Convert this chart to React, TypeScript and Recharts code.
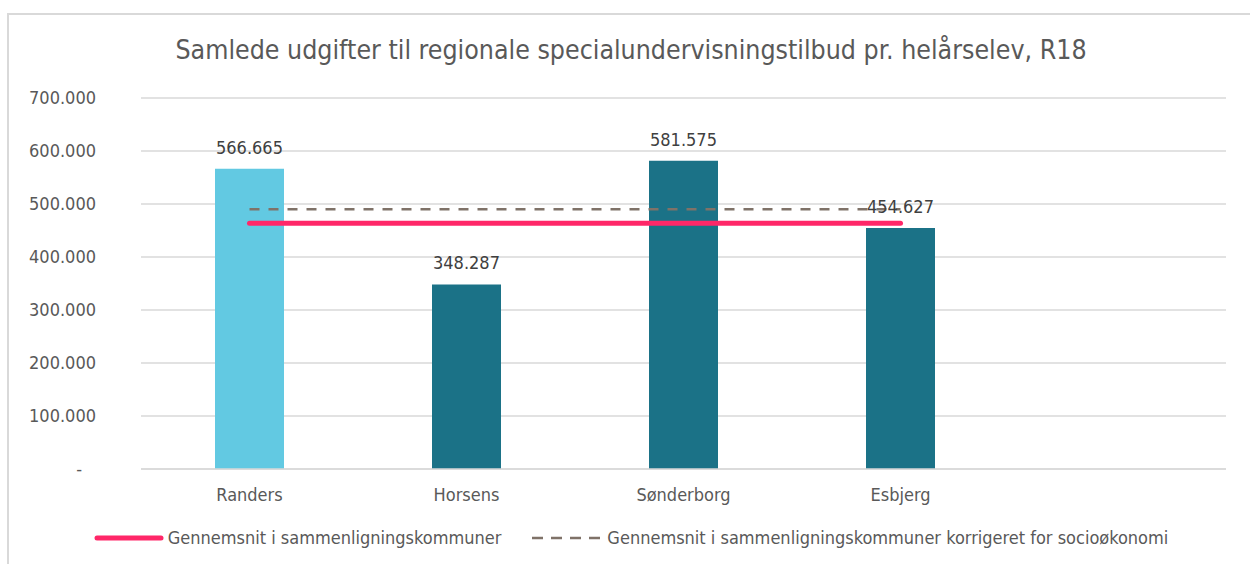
import {
  ComposedChart,
  Bar,
  Line,
  XAxis,
  YAxis,
  CartesianGrid,
  Cell,
  LabelList,
} from 'recharts';

const CATEGORIES = ['Randers', 'Horsens', 'Sønderborg', 'Esbjerg', ''];
const EXPENSES = [566665, 348287, 581575, 454627, null];
const AVERAGE = [463500, 463500, 463500, 463500, null];
const AVERAGE_ADJUSTED = [490000, 490000, 490000, 490000, null];
const Y_TICKS = [0, 100000, 200000, 300000, 400000, 500000, 600000, 700000];

const TITLE = 'Samlede udgifter til regionale specialundervisningstilbud pr. helårselev, R18';
const LEGEND_AVG = 'Gennemsnit i sammenligningskommuner';
const LEGEND_ADJ = 'Gennemsnit i sammenligningskommuner korrigeret for socioøkonomi';

const FONT = '"DejaVu Sans Condensed", "DejaVu Sans", sans-serif';
const TEXT = '#595959';
const LIGHT = '#62C9E2';
const DARK = '#1B7287';
const PINK = '#FF2768';
const DASH = '#7F7268';

const data = CATEGORIES.map((name, i) => ({
  name,
  value: EXPENSES[i],
  avg: AVERAGE[i],
  adj: AVERAGE_ADJUSTED[i],
}));

const fmt = (v: number) => (v === 0 ? '-' : v.toLocaleString('de-DE'));

const YTick = (props: any) => {
  const { x, y, payload } = props;
  const zero = payload.value === 0;
  return (
    <text
      x={zero ? x - 14 : x}
      y={y}
      dy={6}
      textAnchor="end"
      fill={TEXT}
      fontSize={18}
      fontFamily={FONT}
    >
      {fmt(payload.value)}
    </text>
  );
};

export default function App() {
  return (
    <div
      style={{
        position: 'absolute',
        left: 0,
        top: 0,
        width: 1250,
        height: 564,
        overflow: 'hidden',
        background: '#fff',
        fontFamily: FONT,
      }}
    >
      <div
        style={{
          position: 'absolute',
          left: 7,
          top: 13,
          width: 1270,
          height: 620,
          border: '2px solid #d9d9d9',
        }}
      />
      <div
        style={{
          position: 'absolute',
          left: 0,
          top: 33,
          width: 1262,
          textAlign: 'center',
          fontSize: 26.5,
          color: TEXT,
          lineHeight: '34px',
        }}
      >
        {TITLE}
      </div>
      <div style={{ position: 'absolute', left: 0, top: 0 }}>
        <ComposedChart
          width={1250}
          height={564}
          data={data}
          margin={{ top: 98, right: 24, bottom: 55, left: 0 }}
          barSize={69}
        >
          <CartesianGrid vertical={false} stroke="#d9d9d9" strokeWidth={1.5} />
          <XAxis
            dataKey="name"
            axisLine={{ stroke: '#d9d9d9', strokeWidth: 1.5 }}
            tickLine={false}
            tick={{ fill: TEXT, fontSize: 18, fontFamily: FONT }}
            tickMargin={13}
            height={40}
          />
          <YAxis
            domain={[0, 700000]}
            ticks={Y_TICKS}
            axisLine={false}
            tickLine={false}
            tickSize={0}
            tickMargin={45}
            width={141}
            tick={<YTick />}
          />
          <Bar dataKey="value" isAnimationActive={false}>
            {data.map((d, i) => (
              <Cell key={d.name + i} fill={i === 0 ? LIGHT : DARK} />
            ))}
            <LabelList
              dataKey="value"
              position="top"
              offset={15}
              formatter={(v: any) => (v == null ? '' : fmt(v))}
              style={{ fill: '#404040', fontSize: 18, fontFamily: FONT }}
            />
          </Bar>
          <Line
            dataKey="adj"
            stroke={DASH}
            strokeWidth={2.5}
            strokeDasharray="10 9"
            dot={false}
            activeDot={false}
            isAnimationActive={false}
          />
          <Line
            dataKey="avg"
            stroke={PINK}
            strokeWidth={5}
            strokeLinecap="round"
            dot={false}
            activeDot={false}
            isAnimationActive={false}
          />
        </ComposedChart>
      </div>
      <div
        style={{
          position: 'absolute',
          left: 0,
          top: 527,
          width: 1262,
          display: 'flex',
          justifyContent: 'center',
          alignItems: 'center',
          fontSize: 18,
          color: TEXT,
        }}
      >
        <svg width={70} height={10} style={{ marginRight: 4 }}>
          <line x1={3} y1={5} x2={67} y2={5} stroke={PINK} strokeWidth={5} strokeLinecap="round" />
        </svg>
        <span style={{ marginRight: 30 }}>{LEGEND_AVG}</span>
        <svg width={70} height={10} style={{ marginRight: 6 }}>
          <line x1={1} y1={5} x2={69} y2={5} stroke={DASH} strokeWidth={2.5} strokeDasharray="11 8" />
        </svg>
        <span>{LEGEND_ADJ}</span>
      </div>
    </div>
  );
}
